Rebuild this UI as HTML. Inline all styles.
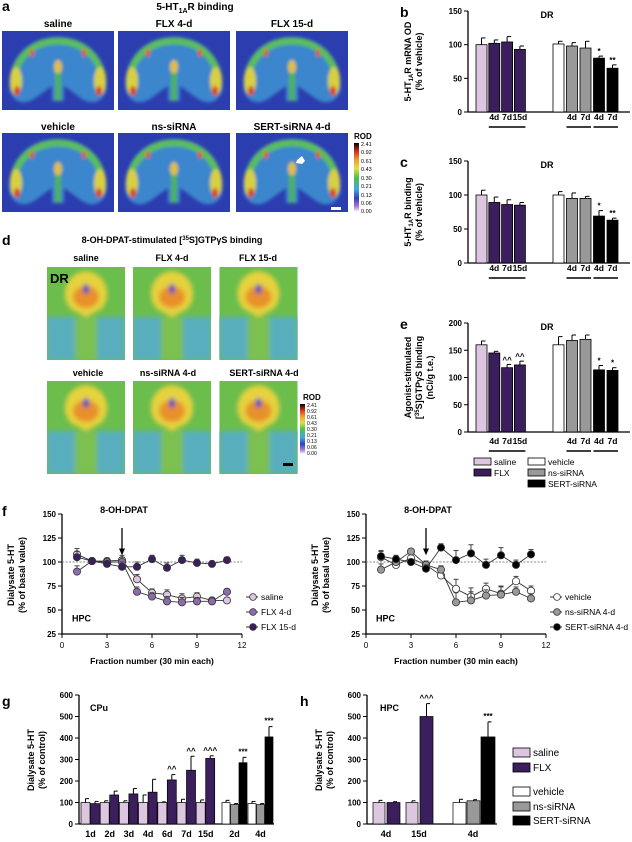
<!DOCTYPE html>
<html><head><meta charset="utf-8"><style>
html,body{margin:0;padding:0;background:#fff}
svg{display:block;font-family:"Liberation Sans",Arial,sans-serif}
</style></head><body>
<svg id="fig" width="632" height="842" viewBox="0 0 632 842" xmlns="http://www.w3.org/2000/svg">
<defs>
<filter id="bl" x="-10%" y="-10%" width="120%" height="120%"><feGaussianBlur stdDeviation="1.6"/></filter>
<filter id="bl2" x="-10%" y="-10%" width="120%" height="120%"><feGaussianBlur stdDeviation="2.5"/></filter>
<linearGradient id="rodg" x1="0" y1="1" x2="0" y2="0">
<stop offset="0" stop-color="#fff"/><stop offset="0.08" stop-color="#b07ad0"/><stop offset="0.2" stop-color="#3040c0"/><stop offset="0.33" stop-color="#40a8e0"/><stop offset="0.5" stop-color="#50c050"/><stop offset="0.63" stop-color="#e0e040"/><stop offset="0.75" stop-color="#f0a030"/><stop offset="0.88" stop-color="#d03020"/><stop offset="1" stop-color="#000"/></linearGradient>
<symbol id="slice" viewBox="0 0 112 79">
<rect width="112" height="79" fill="#2c3db0"/>
<g filter="url(#bl)">
<path d="M8,60 C4,30 25,6 56,6 C87,6 108,30 104,60 C100,72 90,74 80,68 L62,55 L62,70 L50,70 L50,55 L32,68 C22,74 12,72 8,60Z" fill="#3a86cc"/>
<path d="M12,58 C8,32 28,10 56,10 C84,10 104,32 100,58" fill="none" stroke="#5cbd5a" stroke-width="7"/>
<ellipse cx="14" cy="50" rx="6" ry="14" fill="#d8d040"/><ellipse cx="98" cy="50" rx="6" ry="14" fill="#d8d040"/>
<ellipse cx="15" cy="60" rx="3" ry="5" fill="#d84020"/><ellipse cx="97" cy="60" rx="3" ry="5" fill="#d84020"/>
<ellipse cx="30" cy="22" rx="2" ry="4" fill="#e05020"/><ellipse cx="82" cy="22" rx="2" ry="4" fill="#e05020"/>
<ellipse cx="56" cy="36" rx="4" ry="7" fill="#e0c040"/><rect x="53" y="42" width="6" height="28" fill="#50b060"/>
</g></symbol>
<symbol id="dr" viewBox="0 0 78 93">
<rect width="78" height="93" fill="#6bbd4c"/>
<g filter="url(#bl2)">
<rect x="0" y="50" width="78" height="43" fill="#58aebd"/>
<rect x="28" y="50" width="22" height="43" fill="#7cc050"/>
<path d="M39,4 C60,6 66,30 54,42 L39,50 L24,42 C12,30 18,6 39,4Z" fill="#e6d23c"/>
<ellipse cx="39" cy="30" rx="13" ry="11" fill="#e8902c"/>
<ellipse cx="39" cy="22" rx="3" ry="5" fill="#2840c0"/>
</g></symbol>
</defs>

<!-- Panel a -->
<g font-weight="bold">
<text x="2" y="11" font-size="14">a</text>
<text x="195" y="10" font-size="10" text-anchor="middle">5-HT<tspan font-size="7" dy="3">1A</tspan><tspan dy="-3">R binding</tspan></text>
<text x="58" y="27" font-size="10" text-anchor="middle">saline</text>
<text x="174" y="27" font-size="10" text-anchor="middle">FLX 4-d</text>
<text x="292" y="27" font-size="10" text-anchor="middle">FLX 15-d</text>
<text x="58" y="130" font-size="10" text-anchor="middle">vehicle</text>
<text x="174" y="130" font-size="10" text-anchor="middle">ns-siRNA</text>
<text x="292" y="130" font-size="10" text-anchor="middle">SERT-siRNA 4-d</text>
<use href="#slice" x="2" y="31" width="112" height="79"/>
<use href="#slice" x="118" y="31" width="112" height="79"/>
<use href="#slice" x="236" y="31" width="112" height="79"/>
<use href="#slice" x="2" y="133" width="112" height="79"/>
<use href="#slice" x="118" y="133" width="112" height="79"/>
<use href="#slice" x="236" y="133" width="112" height="79"/>
<path d="M297,160 l5,-4 l3,5 l-3,3 l-6,-1z" fill="#fff"/>
<rect x="331" y="207" width="10" height="3" fill="#fff"/>
<text x="354" y="139" font-size="8">ROD</text>
<rect x="354" y="143" width="5" height="69" fill="url(#rodg)"/>
<g font-size="5.5" font-weight="normal"><text x="361" y="146">2.41</text><text x="361" y="154">0.92</text><text x="361" y="163">0.61</text><text x="361" y="171">0.43</text><text x="361" y="180">0.30</text><text x="361" y="188">0.21</text><text x="361" y="197">0.13</text><text x="361" y="205">0.06</text><text x="361" y="213">0.00</text></g>
</g>

<!-- Panel d -->
<g font-weight="bold">
<text x="2" y="245" font-size="14">d</text>
<text x="172" y="243" font-size="9" text-anchor="middle">8-OH-DPAT-stimulated [<tspan font-size="6" dy="-3">35</tspan><tspan dy="3">S]GTPγS binding</tspan></text>
<text x="86" y="261" font-size="9" text-anchor="middle">saline</text>
<text x="172" y="261" font-size="9" text-anchor="middle">FLX 4-d</text>
<text x="258" y="261" font-size="9" text-anchor="middle">FLX 15-d</text>
<text x="88" y="376" font-size="9" text-anchor="middle">vehicle</text>
<text x="168" y="376" font-size="9" text-anchor="middle">ns-siRNA 4-d</text>
<text x="264" y="376" font-size="9" text-anchor="middle">SERT-siRNA 4-d</text>
<use href="#dr" x="47" y="267" width="78" height="93"/>
<use href="#dr" x="133" y="267" width="78" height="93"/>
<use href="#dr" x="219" y="267" width="79" height="93"/>
<use href="#dr" x="47" y="381" width="78" height="93"/>
<use href="#dr" x="133" y="381" width="78" height="93"/>
<use href="#dr" x="219" y="381" width="79" height="93"/>
<text x="50" y="283" font-size="13">DR</text>
<rect x="283" y="463" width="10" height="3" fill="#000"/>
<text x="303" y="400" font-size="8">ROD</text>
<rect x="300" y="404" width="5" height="50" fill="url(#rodg)"/>
<g font-size="5" font-weight="normal"><text x="307" y="407">2.41</text><text x="307" y="413">0.92</text><text x="307" y="419">0.61</text><text x="307" y="425">0.43</text><text x="307" y="431">0.30</text><text x="307" y="437">0.21</text><text x="307" y="443">0.13</text><text x="307" y="449">0.06</text><text x="307" y="455">0.00</text></g>
</g>

<g id="charts"></g>
</svg>
<script>
// ---- data: panel b (mRNA OD), c (binding), e (GTPgS) ----
const bcCats = ['saline','FLX 4d','FLX 7d','FLX 15d','vehicle','ns 4d','ns 7d','SERT 4d','SERT 7d'];
const bVals = [100,102,104,93,101,98,95,80,65];
const bErr = [10,5,8,5,4,5,10,3,5];
const bAnn = ['','','','','','','','*','**'];
const cVals = [100,89,86,85,100,95,95,69,63];
const cErr = [7,8,7,4,5,8,3,8,3];
const cAnn = ['','','','','','','','*','**'];
const eVals = [160,145,118,123,160,168,170,114,113];
const eErr = [7,3,6,7,15,10,8,8,5];
const eAnn = ['','','^^','^^','','','','*','*'];
const bcTicks = [0,50,100,150];
const eTicks = [0,50,100,150,200];
const bcDayLabels = ['','4d','7d','15d','','4d','7d','4d','7d'];
// ---- data: panel f ----
const fX = [1,2,3,4,5,6,7,8,9,10,11];
const fSaline = [108,101,101,102,82,68,66,62,64,60,60];
const fFlx4 = [90,101,100,100,69,64,59,58,59,59,69];
const fFlx15 = [105,101,98,95,95,103,94,102,99,98,102];
const fVehicle = [105,97,104,97,86,72,64,72,67,80,70];
const fNs = [92,100,111,97,92,58,60,65,66,69,62];
const fSert = [106,103,100,93,115,102,109,97,107,97,108];
const fErrL = [6,3,3,5,5,4,5,5,4,3,3];
const fErrR = [6,4,3,4,4,10,9,6,8,5,5];
const fYTicks = [25,50,75,100,125,150];
const fXTicks = [0,3,6,9,12];
// ---- data: panel g ----
const gDays = ['1d','2d','3d','4d','6d','7d','15d'];
const gSaline = [100,100,100,100,100,100,100];
const gSalErr = [18,8,8,35,3,15,12];
const gFlx = [95,135,140,148,205,250,305];
const gFlxErr = [10,18,25,60,25,65,12];
const gFlxAnn = ['','','','','^^','^^','^^^'];
const gSiDays = ['2d','4d'];
const gVehicle = [100,95];
const gVehErr = [10,10];
const gNs = [90,90];
const gNsErr = [5,5];
const gSert = [285,405];
const gSertErr = [25,48];
const ghTicks = [0,100,200,300,400,500,600];
// ---- data: panel h ----
const hDays = ['4d','15d'];
const hSaline = [100,100];
const hSalErr = [10,8];
const hFlx = [100,500];
const hFlxErr = [4,60];
const hVehicle = [100];
const hNs = [108];
const hSert = [405];
const hSiErr = [15,5,70];

const NS='http://www.w3.org/2000/svg';
const root=document.getElementById('charts');
function mk(tag,attrs,parent,name){
  const el=document.createElementNS(NS,tag);
  for(const k in attrs) el.setAttribute(k,attrs[k]);
  
  
  (parent||root).appendChild(el);return el;
}
function txt(x,y,s,size,anchor,parent,name,weight,rot){
  const t=mk('text',{x:x,y:y,'font-size':size,'text-anchor':anchor||'start','font-weight':weight||'bold'},parent,name);
  if(rot) t.setAttribute('transform','rotate(-90 '+x+' '+y+')');
  t.textContent=s;return t;
}
const barCols=['#dcc6e0','#3b1f5c','#3b1f5c','#3b1f5c','#ffffff','#999999','#999999','#000000','#000000'];

function bcX(i){return i<4?476+i*12.8:553+(i-4)*13.5;}
function panelBC(y0,y1,max,ticks,vals,errs,ann,label,titleLines,labY){
  const g=mk('g',{},root,'panel-'+label);
  const yS=v=>y1-(v/max)*(y1-y0);
  txt(400,y0+6,label,14,'start',g,'panel-'+label+'-label');
  txt(547,y0+7,'DR',9,'middle',g,'dr-label');
  mk('line',{x1:468,y1:y0,x2:468,y2:y1,stroke:'#000','stroke-width':1.3},g,'y-axis');
  mk('line',{x1:468,y1:y1,x2:630,y2:y1,stroke:'#000','stroke-width':1.3},g,'x-axis');
  ticks.forEach(t=>{const y=yS(t);
    mk('line',{x1:464,y1:y,x2:468,y2:y,stroke:'#000'},g,'y-tick');
    txt(462,y+3,String(t),8,'end',g,'y-tick-label');});
  vals.forEach((v,i)=>{const x=bcX(i),w=11,y=yS(v),ye=yS(v+errs[i]);
    mk('line',{x1:x+w/2,y1:y,x2:x+w/2,y2:ye,stroke:'#000'},g,'error-bar');
    mk('line',{x1:x+w/2,y1:ye,x2:x+w/2+4,y2:ye,stroke:'#000'},g,'error-cap');
    mk('rect',{x:x,y:y,width:w,height:y1-y,fill:barCols[i],stroke:'#000','stroke-width':0.8},g,'bar-'+bcCats[i].replace(/ /g,'-').toLowerCase());
    if(ann[i]) txt(x+w/2,ye-2,ann[i],8,'middle',g,'significance-mark');
    if(bcDayLabels[i]) txt(x+w/2,labY,bcDayLabels[i],8.5,'middle',g,'day-label');
  });
  [[1,3],[5,6],[7,8]].forEach(p=>mk('line',{x1:bcX(p[0]),y1:labY+7,x2:bcX(p[1])+11,y2:labY+7,stroke:'#000','stroke-width':1.5},g,'group-underline'));
  const cy=(y0+y1)/2;
  titleLines.forEach((s,k)=>{const t=txt(411+k*11,cy,'',9,'middle',g,'y-axis-title',null,true);t.innerHTML=s;});
}
panelBC(11,112,150,bcTicks,bVals,bErr,bAnn,'b',['5-HT<tspan font-size="6" dy="2">1A</tspan><tspan dy="-2">R mRNA OD</tspan>','(% of vehicle)'],120);
panelBC(161,263,150,bcTicks,cVals,cErr,cAnn,'c',['5-HT<tspan font-size="6" dy="2">1A</tspan><tspan dy="-2">R binding</tspan>','(% of vehicle)'],271);
panelBC(323,432,200,eTicks,eVals,eErr,eAnn,'e',['Agonist-stimulated','[<tspan font-size="6" dy="-3">35</tspan><tspan dy="3">S]GTP</tspan>γS binding','(nCi/g t.e.)'],444);
// e legend
(function(){const g=mk('g',{},root,'legend-e');
 [['saline',474,458,'#dcc6e0'],['FLX',474,469,'#3b1f5c'],['vehicle',528,458,'#fff'],['ns-siRNA',528,469,'#999'],['SERT-siRNA',528,480,'#000']].forEach(d=>{
  mk('rect',{x:d[1],y:d[2],width:17,height:7,fill:d[3],stroke:'#000','stroke-width':0.8},g,'legend-swatch');
  txt(d[1]+20,d[2]+7,d[0],8.5,'start',g,'legend-entry','normal');});})();

// panel f
function fy(v){return 514+(150-v)/25*24;}
function panelF(x0,series,names,fills,errs,name){
  const g=mk('g',{},root,name);
  const fx=v=>x0+v*15;
  txt(fx(4)+2,513,'8-OH-DPAT',9,'middle',g,'drug-label');
  mk('path',{d:'M'+fx(4)+','+(fy(150)+14)+' V'+(fy(110)),stroke:'#000','stroke-width':1.3},g,'injection-arrow-shaft');
  mk('path',{d:'M'+(fx(4)-3)+','+(fy(114))+' L'+fx(4)+','+fy(107)+' L'+(fx(4)+3)+','+fy(114)+'Z',fill:'#000'},g,'injection-arrow-head');
  mk('line',{x1:x0,y1:fy(150),x2:x0,y2:fy(25),stroke:'#000','stroke-width':1.3},g,'y-axis');
  mk('line',{x1:x0,y1:fy(25),x2:fx(12),y2:fy(25),stroke:'#000','stroke-width':1.3},g,'x-axis');
  mk('line',{x1:x0,y1:fy(100),x2:fx(12),y2:fy(100),stroke:'#888','stroke-dasharray':'2,1.5'},g,'baseline-100');
  fYTicks.forEach(t=>{mk('line',{x1:x0-4,y1:fy(t),x2:x0,y2:fy(t),stroke:'#000'},g,'y-tick');txt(x0-6,fy(t)+3,String(t),8,'end',g,'y-tick-label');});
  fXTicks.forEach(t=>{mk('line',{x1:fx(t),y1:fy(25),x2:fx(t),y2:fy(25)+4,stroke:'#000'},g,'x-tick');txt(fx(t),fy(25)+14,String(t),8,'middle',g,'x-tick-label','normal');});
  txt(fx(6),664,'Fraction number (30 min each)',8.5,'middle',g,'x-axis-title');
  txt(x0-48,575,'Dialysate 5-HT',9,'middle',g,'y-axis-title',null,true);
  txt(x0-37,575,'(% of basal value)',9,'middle',g,'y-axis-title',null,true);
  txt(x0+10,fy(38),'HPC',9,'start',g,'region-label');
  series.forEach((s,k)=>{
    mk('polyline',{points:fX.map((x,i)=>fx(x)+','+fy(s[i])).join(' '),fill:'none',stroke:'#333','stroke-width':0.9},g,'line-'+names[k]);
    s.forEach((v,i)=>{mk('line',{x1:fx(fX[i]),y1:fy(v),x2:fx(fX[i]),y2:fy(v+errs[i]),stroke:'#444'},g,'error-bar');
      mk('line',{x1:fx(fX[i])-2.5,y1:fy(v+errs[i]),x2:fx(fX[i])+2.5,y2:fy(v+errs[i]),stroke:'#444'},g,'error-cap');});
    s.forEach((v,i)=>mk('circle',{cx:fx(fX[i]),cy:fy(v),r:3.6,fill:fills[k],stroke:'#333','stroke-width':0.8},g,'point-'+names[k]));
    const ly=[597,612,627][k], lx=fx(12)+4;
    mk('line',{x1:lx,y1:ly,x2:lx+12,y2:ly,stroke:'#333'},g,'legend-line');
    mk('circle',{cx:lx+7,cy:ly,r:3.4,fill:fills[k],stroke:'#333','stroke-width':0.8},g,'legend-marker');
    txt(lx+15,ly+3,names[k],8.5,'start',g,'legend-entry','normal');
  });
}
txt(2,516,'f',14,'start',root,'panel-f-label');
panelF(62,[fSaline,fFlx4,fFlx15],['saline','FLX 4-d','FLX 15-d'],['#dcc6e0','#8c6cae','#3b1f5c'],fErrL,'panel-f-left');
panelF(366,[fVehicle,fNs,fSert],['vehicle','ns-siRNA 4-d','SERT-siRNA 4-d'],['#fff','#999','#000'],fErrR,'panel-f-right');

// panels g,h
function gy(v){return 824-v*129/600;}
function axesGH(g,x0,x1){
  mk('line',{x1:x0,y1:gy(600),x2:x0,y2:gy(0),stroke:'#000','stroke-width':1.3},g,'y-axis');
  mk('line',{x1:x0,y1:gy(0),x2:x1,y2:gy(0),stroke:'#000','stroke-width':1.3},g,'x-axis');
  ghTicks.forEach(t=>{mk('line',{x1:x0-4,y1:gy(t),x2:x0,y2:gy(t),stroke:'#000'},g,'y-tick');txt(x0-6,gy(t)+3,String(t),8,'end',g,'y-tick-label');});
  txt(x0-45,760,'Dialysate 5-HT',9,'middle',g,'y-axis-title',null,true);
  txt(x0-34,760,'(% of control)',9,'middle',g,'y-axis-title',null,true);
}
function gbar(g,x,w,v,e,fill,name,ann){
  mk('line',{x1:x+w/2,y1:gy(v),x2:x+w/2,y2:gy(v+e),stroke:'#000'},g,'error-bar');
  mk('line',{x1:x+w/2,y1:gy(v+e),x2:x+w/2+3.5,y2:gy(v+e),stroke:'#000'},g,'error-cap');
  mk('rect',{x:x,y:gy(v),width:w,height:gy(0)-gy(v),fill:fill,stroke:'#000','stroke-width':0.7},g,name);
  if(ann) txt(x+w/2,gy(v+e)-3,ann,8,'middle',g,'significance-mark');
}
(function(){const g=mk('g',{},root,'panel-g');
 txt(2,706,'g',14,'start',g,'panel-g-label');
 axesGH(g,79,274);
 txt(90,711,'CPu',9,'start',g,'region-label');
 const px=i=>81+i*19.2, sx=i=>222+i*26;
 gDays.forEach((d,i)=>{gbar(g,px(i),9,gSaline[i],gSalErr[i],'#dcc6e0','bar-saline-'+d);
   gbar(g,px(i)+9.5,9,gFlx[i],gFlxErr[i],'#3b1f5c','bar-flx-'+d,gFlxAnn[i]);
   txt(px(i)+9.5,837,d,9,'middle',g,'day-label');});
 gSiDays.forEach((d,i)=>{gbar(g,sx(i),8,gVehicle[i],gVehErr[i],'#fff','bar-vehicle-'+d);
   gbar(g,sx(i)+8.5,8,gNs[i],gNsErr[i],'#999','bar-ns-'+d);
   gbar(g,sx(i)+17,8,gSert[i],gSertErr[i],'#000','bar-sert-'+d,'***');
   txt(sx(i)+12.5,837,d,9,'middle',g,'day-label');});
})();
(function(){const g=mk('g',{},root,'panel-h');
 txt(300,706,'h',14,'start',g,'panel-h-label');
 axesGH(g,367,497);
 txt(380,711,'HPC',9,'start',g,'region-label');
 const px=i=>373+i*33;
 hDays.forEach((d,i)=>{gbar(g,px(i),12,hSaline[i],hSalErr[i],'#dcc6e0','bar-saline-'+d);
   gbar(g,px(i)+14,13,hFlx[i],hFlxErr[i],'#3b1f5c','bar-flx-'+d,i==1?'^^^':'');
   txt(px(i)+13,837,d,9,'middle',g,'day-label');});
 gbar(g,453,13,hVehicle[0],hSiErr[0],'#fff','bar-vehicle-4d');
 gbar(g,467,13,hNs[0],hSiErr[1],'#999','bar-ns-4d');
 gbar(g,481,14,hSert[0],hSiErr[2],'#000','bar-sert-4d','***');
 txt(473,837,'4d',9,'middle',g,'day-label');
 [['saline',748,'#dcc6e0'],['FLX',763,'#3b1f5c'],['vehicle',787,'#fff'],['ns-siRNA',802,'#999'],['SERT-siRNA',816,'#000']].forEach(d=>{
  mk('rect',{x:513,y:d[1],width:17,height:9,fill:d[2],stroke:'#000','stroke-width':0.8},g,'legend-swatch');
  txt(533,d[1]+8,d[0],10,'start',g,'legend-entry','normal');});
})();
</script>
</body></html>
